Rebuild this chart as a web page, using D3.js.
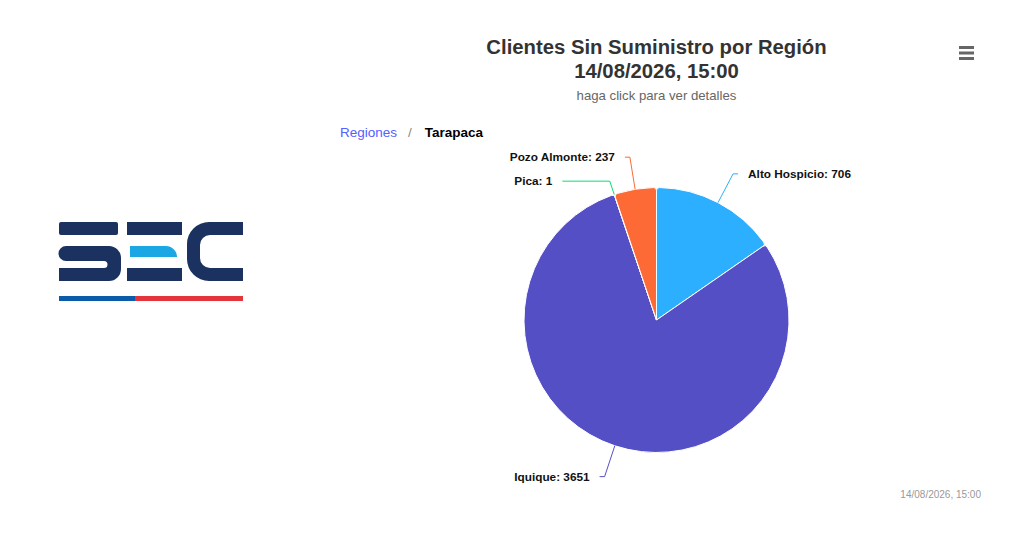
<!DOCTYPE html>
<html>
<head>
<meta charset="utf-8">
<script src="https://cdn.jsdelivr.net/npm/d3@7"></script>
<style>
  body { margin: 0; background: #fff; }
  svg { display: block; font-family: "Liberation Sans", Arial, Helvetica, sans-serif; }
</style>
</head>
<body>
<div id="chart"></div>
<script>
// data
const regions = ["Alto Hospicio", "Iquique", "Pica", "Pozo Almonte"];
const clients = [706, 3651, 1, 237];
const sliceColors = ["#2caffe", "#544fc5", "#00e272", "#fe6a35"];
const titleLines = ["Clientes Sin Suministro por Región", "14/08/2026, 15:00"];
const subtitleText = "haga click para ver detalles";
const crumbs = ["Regiones", "Tarapaca"];
const creditText = "14/08/2026, 15:00";

const width = 1024, height = 547;
const chartLeft = 290;
const cx = (chartLeft + width) / 2 - 0.5;
const cy = 320;
const radius = 132.5;
const labelRadius = radius + 32.5;

const svg = d3.select("#chart").append("svg")
    .attr("width", width)
    .attr("height", height);

// SEC logo
const logo = svg.append("g").attr("class", "logo");
const navy = "#1b3260";
logo.append("rect").attr("x", 59).attr("y", 222).attr("width", 59).attr("height", 13).attr("rx", 2).attr("fill", navy);
logo.append("path").attr("fill", navy)
    .attr("d", "M66,246 H109 A12,12 0 0 1 121,258 V269 A12,12 0 0 1 109,281 H59 V268 H104 A3.5,3.5 0 0 0 104,261 H66 A7.5,7.5 0 0 1 66,246 Z");
logo.append("rect").attr("x", 127).attr("y", 222).attr("width", 55).attr("height", 13).attr("fill", navy);
logo.append("rect").attr("x", 127).attr("y", 268).attr("width", 55).attr("height", 13).attr("fill", navy);
logo.append("path").attr("fill", "#1ba6e4")
    .attr("d", "M130,246 H166 C172,246 177,251 177,257 H130 Z");
logo.append("path").attr("fill", navy)
    .attr("d", "M243,222 V235 H210 A10,10 0 0 0 200,245 V258 A10,10 0 0 0 210,268 H243 V281 H209 A22,22 0 0 1 187,259 V244 A22,22 0 0 1 209,222 Z");
logo.append("rect").attr("x", 59).attr("y", 296).attr("width", 76).attr("height", 5).attr("fill", "#0b5ba9");
logo.append("rect").attr("x", 135).attr("y", 296).attr("width", 108).attr("height", 5).attr("fill", "#e6343c");

// title
svg.selectAll(".titleLine")
    .data(titleLines)
    .join("text")
    .classed("titleLine", true)
    .attr("x", cx)
    .attr("y", (d, i) => 54 + i * 24)
    .attr("text-anchor", "middle")
    .attr("font-size", "20.3px")
    .attr("font-weight", "bold")
    .attr("fill", "#333")
    .text(d => d);

svg.append("text")
    .attr("x", cx)
    .attr("y", 100)
    .attr("text-anchor", "middle")
    .attr("font-size", "13.2px")
    .attr("fill", "#666")
    .text(subtitleText);

// menu button
svg.selectAll(".menuLine")
    .data([0, 1, 2])
    .join("line")
    .classed("menuLine", true)
    .attr("x1", 959)
    .attr("x2", 974)
    .attr("y1", d => 47.5 + d * 5.5)
    .attr("y2", d => 47.5 + d * 5.5)
    .style("stroke", "#666")
    .style("stroke-width", "3px");

// breadcrumbs
const crumb = svg.append("text")
    .attr("x", 340)
    .attr("y", 137)
    .attr("font-size", "13.5px");
crumb.append("tspan").attr("fill", "#5261ff").text(crumbs[0]);
crumb.append("tspan").attr("dx", 11).attr("fill", "#888").text("/");
crumb.append("tspan").attr("dx", 13).attr("fill", "#000").attr("font-weight", "bold").text(crumbs[1]);

// pie
const pie = d3.pie().sort(null).value(d => d);
const arcs = pie(clients);
const arc = d3.arc().innerRadius(0).outerRadius(radius).cornerRadius(3);
const color = d3.scaleOrdinal().domain(regions).range(sliceColors);

const pieG = svg.append("g").attr("transform", `translate(${cx},${cy})`);
pieG.selectAll("path")
    .data(arcs)
    .join("path")
    .attr("d", arc)
    .attr("fill", (d, i) => color(regions[i]))
    .style("stroke", "#fff")
    .style("stroke-width", "1px")
    .style("stroke-linejoin", "round");

// label layout, bigger slices keep their spot
let labels = arcs.map((d, i) => {
    let a = (d.startAngle + d.endAngle) / 2;
    return {
        name: regions[i],
        value: clients[i],
        color: color(regions[i]),
        a: a,
        left: Math.sin(a) < 0,
        ex: cx + radius * Math.sin(a),
        ey: cy - radius * Math.cos(a),
        y: cy - labelRadius * Math.cos(a)
    };
});
const minGap = 24;
[true, false].forEach(side => {
    let placed = [];
    labels.filter(l => l.left === side)
        .sort((p, q) => q.value - p.value)
        .forEach(l => {
            let moved = true;
            while (moved) {
                moved = false;
                placed.forEach(p => {
                    if (Math.abs(l.y - p.y) < minGap) {
                        l.y = l.y >= p.y ? p.y + minGap : p.y - minGap;
                        moved = true;
                    }
                });
            }
            placed.push(l);
        });
});
labels.forEach(l => {
    let dy = Math.min(Math.abs(l.y - cy), labelRadius);
    let gx = Math.sqrt(labelRadius * labelRadius - dy * dy);
    let sign = l.left ? -1 : 1;
    l.x = cx + sign * gx;
    l.tx = l.x + sign * 15;
    l.cEnd = l.x + sign * 5;
    let t = (l.ey - l.y) / Math.cos(l.a);
    l.bx = l.ex + t * Math.sin(l.a);
});

svg.selectAll(".connector")
    .data(labels)
    .join("path")
    .classed("connector", true)
    .attr("d", d => `M${d.ex},${d.ey} L${d.bx},${d.y} L${d.cEnd},${d.y}`)
    .style("fill", "none")
    .style("stroke", d => d.color)
    .style("stroke-width", "1px");

svg.selectAll(".dataLabel")
    .data(labels)
    .join("text")
    .classed("dataLabel", true)
    .attr("x", d => d.tx)
    .attr("y", d => d.y)
    .attr("dy", "0.35em")
    .attr("text-anchor", d => d.left ? "end" : "start")
    .attr("font-size", "11.8px")
    .attr("font-weight", "bold")
    .attr("fill", "#111")
    .text(d => `${d.name}: ${d.value}`);

// credits
svg.append("text")
    .attr("x", 981)
    .attr("y", 498)
    .attr("text-anchor", "end")
    .attr("font-size", "10px")
    .attr("fill", "#999")
    .text(creditText);
</script>
</body>
</html>
